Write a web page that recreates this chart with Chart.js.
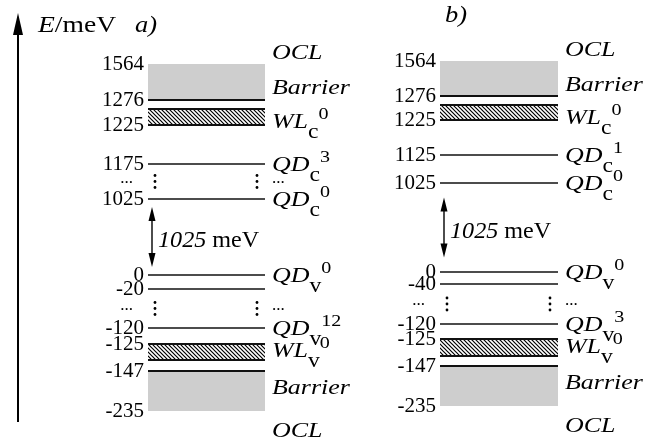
<!DOCTYPE html>
<html>
<head>
<meta charset="utf-8">
<script src="https://cdn.jsdelivr.net/npm/chart.js@4.4.1/dist/chart.umd.min.js"></script>
<style>
  body { margin: 0; background: #fff; }
  #wrap { position: relative; width: 665px; height: 442px; overflow: hidden; }
  .panel { position: absolute; top: 0; height: 442px; }
</style>
</head>
<body>
<div id="wrap">
  <div class="panel" style="left:0;width:380px"><canvas id="chartA"></canvas></div>
  <div class="panel" style="left:332px;width:333px"><canvas id="chartB"></canvas></div>
</div>
<script>
// energies in meV, conduction band
const cBarrier = [1276, 1564];
const cWetting = [1225, 1255];        // upper edge of the WL band is not labelled
const qdCA = [1175, 1025];
const qdCNamesA = ['3', '0'];
const qdCB = [1125, 1025];
const qdCNamesB = ['1', '0'];
// valence band
const qdVA = [0, -20, -120];
const qdVNamesA = ['0', '', '12'];
const qdVB = [0, -40, -120];
const qdVNamesB = ['0', '', '3'];
const vWetting = [-125, -138];        // lower edge not labelled
const vBarrier = [-147, -235];
// levels hidden behind the dots
const gapsA = [[1175, 1025], [-20, -120]];
const gapsB = [[-40, -120]];

// broken energy axis: energy -> px from the top of the canvas
const breaksA = [[1564, 64], [1276, 100], [1255, 109], [1225, 125], [1175, 164], [1025, 199],
  [0, 275], [-20, 289], [-120, 328], [-125, 344], [-138, 360], [-147, 371], [-235, 411]];
const breaksB = [[1564, 61], [1276, 96], [1255, 105], [1225, 120], [1125, 155], [1025, 183],
  [0, 272], [-40, 284], [-120, 324], [-125, 339], [-138, 356], [-147, 366], [-235, 406]];

const SERIF = '"Liberation Serif", "Times New Roman", serif';
const GRAY = '#cecece';
const INK = '#111';

class BrokenScale extends Chart.LinearScale {
  getPixelForValue(value) {
    const b = this.options.breaks;
    let i = 0;
    while (i < b.length - 2 && value < b[i + 1][0]) i++;
    const [v0, p0] = b[i], [v1, p1] = b[i + 1];
    return p0 + (value - v0) / (v1 - v0) * (p1 - p0);
  }
  getValueForPixel(p) {
    const b = this.options.breaks;
    let i = 0;
    while (i < b.length - 2 && p > b[i + 1][1]) i++;
    const [v0, p0] = b[i], [v1, p1] = b[i + 1];
    return v0 + (p - p0) / (p1 - p0) * (v1 - v0);
  }
}
BrokenScale.id = 'broken';
BrokenScale.defaults = Chart.LinearScale.defaults;
Chart.register(BrokenScale);

function hatchPattern() {
  const c = document.createElement('canvas');
  c.width = c.height = 4;
  const g = c.getContext('2d');
  g.strokeStyle = '#000';
  g.lineWidth = 1.2;
  g.beginPath();
  g.moveTo(-1, -1); g.lineTo(5, 5);
  g.moveTo(-1, 3); g.lineTo(1, 5);
  g.moveTo(3, -1); g.lineTo(5, 1);
  g.stroke();
  return g.createPattern(c, 'repeat');
}
const HATCH = hatchPattern();

// text in pieces: [text, style, size, dy]
function rich(ctx, x, y, parts, sx) {
  ctx.save();
  ctx.translate(x, y);
  ctx.scale(sx || 1.18, 1);
  ctx.fillStyle = '#000';
  ctx.textBaseline = 'alphabetic';
  ctx.textAlign = 'left';
  let cx = 0;
  for (const [t, style, size, dy] of parts) {
    ctx.font = `${style} ${size}px ${SERIF}`;
    ctx.fillText(t, cx, dy || 0);
    cx += ctx.measureText(t).width;
  }
  ctx.restore();
}
const stateLabel = (name, band, n) => [[name, 'italic', 22, 0], [band, 'normal', 20, 10], [n, 'normal', 17, -9]];

function head(ctx, x, y, dir, w, h) {
  ctx.beginPath();
  ctx.moveTo(x, y);
  ctx.lineTo(x - w / 2, y - dir * h);
  ctx.lineTo(x + w / 2, y - dir * h);
  ctx.closePath();
  ctx.fill();
}

function dots(ctx, x, yMid) {
  for (const d of [-6, 0, 6]) {
    ctx.beginPath();
    ctx.arc(x, yMid + d, 1.4, 0, Math.PI * 2);
    ctx.fill();
  }
}

function levelChart(id, panel) {
  const {qdC, namesC, qdV, namesV, gaps, breaks, axisWidth, padRight, title, axisArrow} = panel;
  const flat = e => [{x: 0, y: e}, {x: 1, y: e}];
  const level = (e, w, extra) => Object.assign(
    {data: flat(e), borderColor: INK, borderWidth: w, pointRadius: 0, fill: false}, extra);

  const datasets = [
    level(cBarrier[0], 2, {fill: {value: cBarrier[1]}, backgroundColor: GRAY}),
    level(cWetting[1], 2),
    level(cWetting[0], 2, {fill: {value: cWetting[1]}, backgroundColor: HATCH}),
    ...qdC.map(e => level(e, 1.5)),
    ...qdV.map(e => level(e, 1.5)),
    level(vWetting[0], 2),
    level(vWetting[1], 2, {fill: {value: vWetting[0]}, backgroundColor: HATCH}),
    level(vBarrier[0], 2, {fill: {value: vBarrier[1]}, backgroundColor: GRAY})
  ];
  const tickValues = [...cBarrier.slice().reverse(), cWetting[0], ...qdC, ...qdV, vWetting[0], ...vBarrier];

  const labels = {
    id: 'levelLabels',
    afterDraw(chart) {
      const {ctx, chartArea: area} = chart;
      const y = chart.scales.y;
      const px = v => y.getPixelForValue(v);
      const tx = area.right + 7;
      const word = t => [[t, 'italic', 22]];
      ctx.save();
      ctx.fillStyle = '#000';
      ctx.strokeStyle = '#000';

      // conduction side
      rich(ctx, tx, px(cBarrier[1]) - 12 + 7, word('OCL'));
      rich(ctx, tx, (px(cBarrier[0]) + px(cBarrier[1])) / 2 + 5 + 7, word('Barrier'));
      rich(ctx, tx, (px(cWetting[0]) + px(cWetting[1])) / 2 + 4 + 7, stateLabel('WL', 'c', '0'));
      qdC.forEach((e, i) => rich(ctx, tx, px(e) + 7, stateLabel('QD', 'c', namesC[i])));

      // valence side
      qdV.forEach((e, i) => {
        if (namesV[i]) rich(ctx, tx, px(e) + 7, stateLabel('QD', 'v', namesV[i]));
      });
      rich(ctx, tx, (px(vWetting[0]) + px(vWetting[1])) / 2 - 2 + 7, stateLabel('WL', 'v', '0'));
      rich(ctx, tx, (px(vBarrier[0]) + px(vBarrier[1])) / 2 - 4 + 7, word('Barrier'));
      rich(ctx, tx, px(vBarrier[1]) + 19 + 7, word('OCL'));

      // skipped levels
      for (const [hi, lo] of gaps) {
        const mid = (px(hi) + px(lo)) / 2;
        dots(ctx, area.left + 7, mid);
        dots(ctx, area.right - 8, mid);
        ctx.font = `17px ${SERIF}`;
        ctx.textAlign = 'right';
        ctx.fillText('...', area.left - 15, mid + 1);
        ctx.textAlign = 'left';
        ctx.fillText('...', tx, mid + 1);
      }

      // band gap arrow
      const yc = px(qdC[qdC.length - 1]);
      const yv = px(qdV[0]);
      const mid = (yc + yv) / 2;
      const ax = area.left + 4;
      ctx.lineWidth = 1.4;
      ctx.beginPath();
      ctx.moveTo(ax, mid - 20);
      ctx.lineTo(ax, mid + 20);
      ctx.stroke();
      head(ctx, ax, mid - 30, -1, 7, 14);
      head(ctx, ax, mid + 30, 1, 7, 14);
      const gap = qdC[qdC.length - 1] - qdV[0];
      rich(ctx, ax + 6, mid + 10, [[String(gap), 'italic', 23], [' meV', 'normal', 23]], 1.05);

      // panel title
      rich(ctx, area.left + title.dx, title.y, [[title.text, 'italic', 23]], 1.15);

      if (axisArrow) {
        ctx.lineWidth = 2;
        ctx.beginPath();
        ctx.moveTo(18, 30);
        ctx.lineTo(18, 422);
        ctx.stroke();
        head(ctx, 18, 13, -1, 10, 22);
        rich(ctx, 38, 32, [['E', 'italic', 23], ['/meV', 'normal', 23]], 1.2);
      }
      ctx.restore();
    }
  };

  return new Chart(document.getElementById(id), {
    type: 'line',
    data: {datasets},
    options: {
      responsive: true,
      maintainAspectRatio: false,
      animation: false,
      events: [],
      layout: {padding: {left: 0, right: padRight, top: 0, bottom: 0}},
      plugins: {legend: {display: false}, tooltip: {enabled: false}},
      scales: {
        x: {type: 'linear', min: 0, max: 1, display: false},
        y: {
          type: 'broken',
          breaks,
          min: -260,
          max: 1600,
          grid: {display: false, drawTicks: false},
          border: {display: false},
          afterFit: s => { s.width = axisWidth; },
          afterBuildTicks: s => { s.ticks = tickValues.map(v => ({value: v})); },
          ticks: {
            autoSkip: false,
            padding: 4,
            color: '#000',
            font: {family: SERIF, size: 21},
            callback: v => String(v)
          }
        }
      }
    },
    plugins: [labels]
  });
}

levelChart('chartA', {
  qdC: qdCA, namesC: qdCNamesA, qdV: qdVA, namesV: qdVNamesA, gaps: gapsA,
  breaks: breaksA, axisWidth: 148, padRight: 115,
  title: {text: 'a)', dx: -13, y: 32}, axisArrow: true
});
levelChart('chartB', {
  qdC: qdCB, namesC: qdCNamesB, qdV: qdVB, namesV: qdVNamesB, gaps: gapsB,
  breaks: breaksB, axisWidth: 108, padRight: 107,
  title: {text: 'b)', dx: 5, y: 22}, axisArrow: false
});
</script>
</body>
</html>
